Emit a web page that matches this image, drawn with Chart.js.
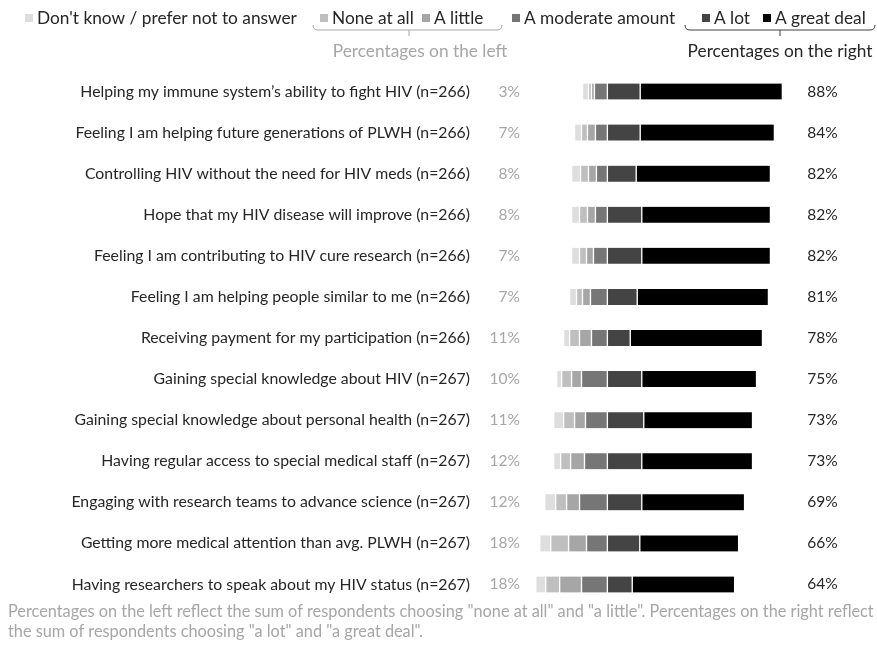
<!DOCTYPE html>
<html>
<head>
<meta charset="utf-8">
<title>Motivations for participation</title>
<script src="https://cdn.jsdelivr.net/npm/chart.js@4.4.1/dist/chart.umd.min.js"></script>
<style>
    html, body { margin: 0; padding: 0; background: #fff; }
    #wrap { width: 877px; height: 648px; position: relative; }
</style>
</head>
<body>
<div id="wrap"><canvas id="chart"></canvas></div>
<script>
// ---- data (percent of respondents) ----
const categories = [
    'Helping my immune system’s ability to fight HIV (n=266)',
    'Feeling I am helping future generations of PLWH (n=266)',
    'Controlling HIV without the need for HIV meds (n=266)',
    'Hope that my HIV disease will improve (n=266)',
    'Feeling I am contributing to HIV cure research (n=266)',
    'Feeling I am helping people similar to me (n=266)',
    'Receiving payment for my participation (n=266)',
    'Gaining special knowledge about HIV (n=267)',
    'Gaining special knowledge about personal health (n=267)',
    'Having regular access to special medical staff (n=267)',
    'Engaging with research teams to advance science (n=267)',
    'Getting more medical attention than avg. PLWH (n=267)',
    'Having researchers to speak about my HIV status (n=267)'
];
const dontKnow  = [3, 3.5, 4.5, 4, 4, 3.5, 3, 2.5, 5, 3.5, 5.5, 5.5, 5];
const noneAtAll = [1.5, 3, 4, 4, 3.5, 3, 5, 5, 5.5, 5, 5.5, 9, 7];
const aLittle   = [1.5, 4, 4, 4, 3.5, 4, 6, 5, 5.5, 7, 6.5, 9, 11];
const moderate  = [6.5, 6, 5.5, 6, 7, 8.5, 8, 13, 11, 11.5, 14, 10.5, 13];
const aLot      = [16.5, 16.5, 14.5, 17.3, 17.3, 15, 11.5, 17.3, 18.3, 17.3, 17.3, 16.3, 12.5];
const greatDeal = [71.5, 67.5, 67.5, 64.7, 64.7, 66, 66.5, 57.7, 54.7, 55.7, 51.7, 49.7, 51.5];
const leftPct   = [3, 7, 8, 8, 7, 7, 11, 10, 11, 12, 12, 18, 18];
const rightPct  = [88, 84, 82, 82, 82, 81, 78, 75, 73, 73, 69, 66, 64];

const legendNames  = ['Don\'t know / prefer not to answer', 'None at all', 'A little', 'A moderate amount', 'A lot', 'A great deal'];
const legendColors = ['#dedede', '#bfbfbf', '#a6a6a6', '#767676', '#444444', '#000000'];

const FONT = 'Lato, "Open Sans", sans-serif';

function seg(label, values, color, sign) {
    return {
        label: label,
        data: values.map(v => v * sign),
        backgroundColor: color,
        borderColor: '#ffffff',
        borderWidth: { top: 0, bottom: 0, left: 1, right: 1 },
        borderSkipped: false,
        barThickness: 16
    };
}

// negatives stack outwards from zero in dataset order
const datasets = [
    seg('A moderate amount', moderate, legendColors[3], -1),
    seg('A little', aLittle, legendColors[2], -1),
    seg('None at all', noneAtAll, legendColors[1], -1),
    seg('Don\'t know / prefer not to answer', dontKnow, legendColors[0], -1),
    seg('A lot', aLot, legendColors[4], 1),
    seg('A great deal', greatDeal, legendColors[5], 1)
];

function bracket(ctx, x1, x2, xm, y, color) {
    ctx.strokeStyle = color;
    ctx.lineWidth = 1;
    ctx.beginPath();
    ctx.moveTo(x1, y - 5);
    ctx.quadraticCurveTo(x1, y, x1 + 5, y);
    ctx.lineTo(x2 - 5, y);
    ctx.quadraticCurveTo(x2, y, x2, y - 5);
    ctx.moveTo(xm, y);
    ctx.lineTo(xm, y + 6);
    ctx.stroke();
}

const extras = {
    id: 'extras',
    afterDraw(chart) {
        const { ctx, scales: { x, y } } = chart;
        ctx.save();
        ctx.textBaseline = 'middle';

        // side percentages
        ctx.font = '15.5px ' + FONT;
        categories.forEach((c, i) => {
            const py = y.getPixelForValue(i);
            ctx.fillStyle = '#a6a6a6';
            ctx.textAlign = 'right';
            ctx.fillText(leftPct[i] + '%', x.getPixelForValue(-44), py);
            ctx.fillStyle = '#262626';
            ctx.textAlign = 'left';
            ctx.fillText(rightPct[i] + '%', x.getPixelForValue(100.5), py);
        });

        // legend
        const legendX = [25, 320, 422, 512, 702, 763];
        ctx.font = '17.3px ' + FONT;
        ctx.textAlign = 'left';
        legendNames.forEach((n, i) => {
            ctx.fillStyle = legendColors[i];
            ctx.fillRect(legendX[i], 14, 8, 8);
            ctx.fillStyle = '#262626';
            ctx.fillText(n, legendX[i] + 12, 18);
        });

        // group brackets
        bracket(ctx, 313, 502, 409, 30, '#a6a6a6');
        bracket(ctx, 685, 875, 780, 30, '#404040');
        ctx.font = '17.3px ' + FONT;
        ctx.textAlign = 'center';
        ctx.fillStyle = '#a6a6a6';
        ctx.fillText('Percentages on the left', 420, 51);
        ctx.fillStyle = '#262626';
        ctx.fillText('Percentages on the right', 780, 51);

        // footnote
        ctx.font = '16.3px ' + FONT;
        ctx.textAlign = 'left';
        ctx.fillStyle = '#a6a6a6';
        ctx.fillText('Percentages on the left reflect the sum of respondents choosing "none at all" and "a little". Percentages on the right reflect', 8, 612, 866);
        ctx.fillText('the sum of respondents choosing "a lot" and "a great deal".', 8, 632);
        ctx.restore();
    }
};

new Chart(document.getElementById('chart'), {
    type: 'bar',
    data: { labels: categories, datasets: datasets },
    options: {
        indexAxis: 'y',
        responsive: true,
        maintainAspectRatio: false,
        animation: false,
        layout: { padding: { top: 71, bottom: 43, left: 0, right: 31 } },
        plugins: {
            legend: { display: false },
            tooltip: { enabled: false }
        },
        scales: {
            x: {
                stacked: true,
                display: false,
                min: -55,
                max: 120
            },
            y: {
                stacked: true,
                grid: { display: false, drawTicks: false },
                border: { display: false },
                ticks: {
                    color: '#262626',
                    padding: 28,
                    font: { family: FONT, size: 15.8 }
                },
                afterFit: axis => { axis.width = 498; }
            }
        }
    },
    plugins: [extras]
});
</script>
</body>
</html>
